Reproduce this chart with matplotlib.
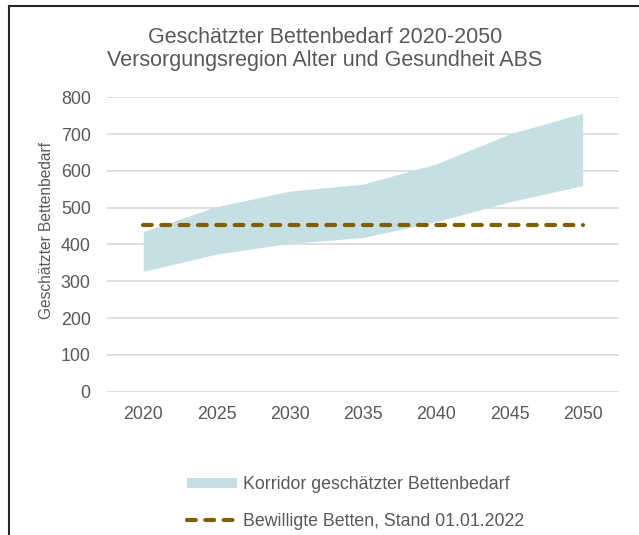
import matplotlib
matplotlib.use("Agg")
import matplotlib.pyplot as plt
from matplotlib.lines import Line2D
from matplotlib.patches import Patch

years = ["2020", "2025", "2030", "2035", "2040", "2045", "2050"]
upper = [435, 503, 545, 564, 619, 700, 757]
lower = [327, 374, 403, 419, 462, 516, 560]
approved = [453, 453, 453, 453, 453, 453, 453]
yticks = [0, 100, 200, 300, 400, 500, 600, 700, 800]

title1 = "Geschätzter Bettenbedarf 2020-2050"
title2 = "Versorgungsregion Alter und Gesundheit ABS"
ylabel = "Geschätzter Bettenbedarf"
lab_fill = "Korridor geschätzter Bettenbedarf"
lab_line = "Bewilligte Betten, Stand 01.01.2022"

plt.rcParams['font.family'] = ['Liberation Sans', 'DejaVu Sans']
txt = '#595959'
fill_c = '#C5DFE4'
line_c = '#7F6000'

W, H = 639, 535
fig = plt.figure(figsize=(W / 100, H / 100), dpi=100)
ax = fig.add_axes([106.7 / W, (H - 391.7) / H, (619.3 - 106.7) / W, (391.7 - 97.3) / H])

x = list(range(len(years)))
ax.fill_between(x, lower, upper, color=fill_c, linewidth=0, zorder=2)
ax.plot(x, approved, color=line_c, linewidth=3, dashes=(2.1, 2.3),
        dash_capstyle='round', zorder=3)

ax.set_xlim(-0.5, len(years) - 0.5)
ax.set_ylim(0, 800)
ax.set_yticks(yticks)
ax.set_xticks(x)
ax.set_xticklabels(years)
ax.grid(axis='y', color='#D9D9D9', linewidth=1.2, zorder=0)
ax.set_axisbelow(True)
for s in ax.spines.values():
    s.set_visible(False)
ax.tick_params(axis='both', length=0, labelsize=12.8, labelcolor=txt)
ax.tick_params(axis='y', pad=11.5)
ax.tick_params(axis='x', pad=10)
ax.set_ylabel(ylabel, fontsize=11.2, color=txt)
ax.yaxis.set_label_coords((47 - 106.7) / (619.3 - 106.7), (391.7 - 230.5) / (391.7 - 97.3))
ax.yaxis.label.set_va('center')

fig.text(325 / W, 1 - 43 / H, title1, ha='center', va='baseline', fontsize=15.5, color=txt)
fig.text(325 / W, 1 - 66 / H, title2, ha='center', va='baseline', fontsize=15.5, color=txt)

handles = [Patch(facecolor=fill_c, edgecolor='none'),
           Line2D([0], [0], color=line_c, linewidth=3, dashes=(2.1, 2.3),
                  dash_capstyle='round')]
leg = fig.legend(handles, [lab_fill, lab_line], loc='center left',
                 bbox_to_anchor=(170.5 / W, 1 - 503 / H), frameon=False,
                 fontsize=12.8, handlelength=2.85, handletextpad=0.34,
                 labelspacing=1.12, handleheight=0.5, borderpad=0.4)
for t in leg.get_texts():
    t.set_color(txt)

# outer frame (left and top visible)
fig.add_artist(Line2D([9 / W, 9 / W], [0, 1 - 6 / H], color='#262626', linewidth=1.5,
                      transform=fig.transFigure))
fig.add_artist(Line2D([9 / W, 1], [1 - 6 / H, 1 - 6 / H], color='#262626', linewidth=1.5,
                      transform=fig.transFigure))

fig.savefig("out.png", dpi=100)
